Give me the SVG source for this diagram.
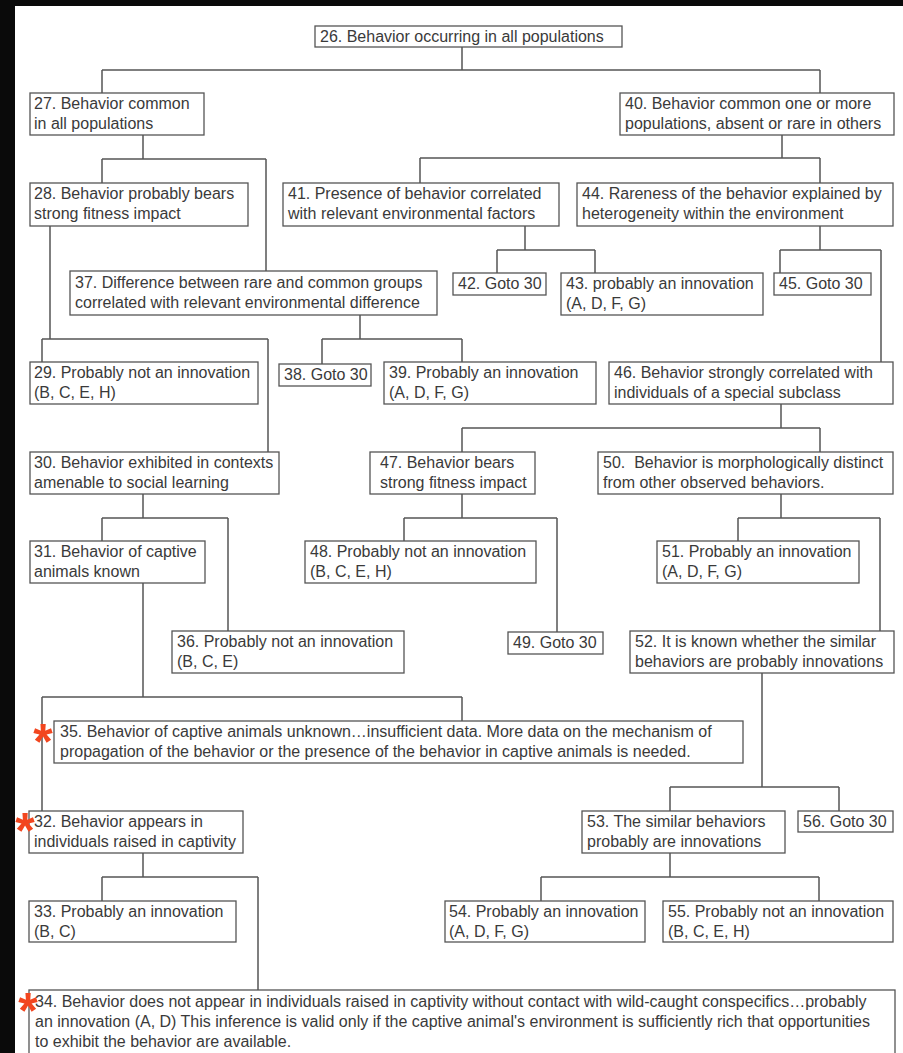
<svg xmlns="http://www.w3.org/2000/svg" width="903" height="1053" viewBox="0 0 903 1053">
<style>
.bg{fill:#ffffff}
.frame{fill:#0a0a0a}
.node rect{fill:#ffffff;stroke:#555555;stroke-width:1.3}
.node text{font-family:"Liberation Sans",Arial,sans-serif;font-size:16px;fill:#3a3a3a}
#connectors path{fill:none;stroke:#555555;stroke-width:1.5}
.star{font-family:"Liberation Sans",Arial,sans-serif;font-weight:bold;font-size:50px;fill:#f2461f;text-anchor:middle}
</style>
<rect class="bg" x="0" y="0" width="903" height="1053"/>
<rect class="frame" x="0" y="0" width="903" height="6"/>
<rect class="frame" x="0" y="0" width="15" height="1053"/>

<g id="connectors">
<path d="M462,47V70M102,70H820M102,70V93M820,70V93"/>
<path d="M143,135V159M102,159H266M102,159V183M266,159V271"/>
<path d="M782,135V158M420,158H820M420,158V183M820,158V183"/>
<path d="M525,226V250M497,250H595M497,250V273M595,250V273"/>
<path d="M820,226V250M780,250H881M780,250V273M881,250V362"/>
<path d="M50,226V339M42,339H268M42,339V362M268,339V452"/>
<path d="M360,315V339M322,339H462M322,339V364M462,339V362"/>
<path d="M781,404V428M462,428H820M462,428V452M820,428V452"/>
<path d="M143,494V518M102,518H228M102,518V541M228,518V631"/>
<path d="M462,494V518M404,518H557M404,518V541M557,518V632"/>
<path d="M781,494V518M738,518H880M738,518V541M880,518V631"/>
<path d="M143,583V697M42,697H462M42,697V811M462,697V721"/>
<path d="M762,673V787M670,787H839M670,787V811M839,787V811"/>
<path d="M143,853V877M102,877H258M102,877V901M258,877V990"/>
<path d="M670,853V877M541,877H819M541,877V901M819,877V901"/>
</g>

<g id="n26" class="node"><rect x="315" y="26" width="307" height="21"/><text x="320" y="42">26. Behavior occurring in all populations</text></g>
<g id="n27" class="node"><rect x="30" y="93" width="174" height="42"/><text x="34" y="109">27. Behavior common</text><text x="34" y="129">in all populations</text></g>
<g id="n40" class="node"><rect x="620" y="93" width="274" height="42"/><text x="625" y="109">40. Behavior common one or more</text><text x="625" y="129">populations, absent or rare in others</text></g>
<g id="n28" class="node"><rect x="30" y="183" width="218" height="43"/><text x="34" y="199">28. Behavior probably bears</text><text x="34" y="219">strong fitness impact</text></g>
<g id="n41" class="node"><rect x="283" y="183" width="276" height="43"/><text x="288" y="199">41. Presence of behavior correlated</text><text x="288" y="219">with relevant environmental factors</text></g>
<g id="n44" class="node"><rect x="577" y="183" width="316" height="43"/><text x="582" y="199">44. Rareness of the behavior explained by</text><text x="582" y="219">heterogeneity within the environment</text></g>
<g id="n37" class="node"><rect x="70" y="271" width="367" height="44"/><text x="75" y="288">37. Difference between rare and common groups</text><text x="75" y="308">correlated with relevant environmental difference</text></g>
<g id="n42" class="node"><rect x="453" y="273" width="93" height="22"/><text x="458" y="289">42. Goto 30</text></g>
<g id="n43" class="node"><rect x="561" y="273" width="202" height="42"/><text x="566" y="289">43. probably an innovation</text><text x="566" y="309">(A, D, F, G)</text></g>
<g id="n45" class="node"><rect x="774" y="273" width="97" height="22"/><text x="779" y="289">45. Goto 30</text></g>
<g id="n29" class="node"><rect x="30" y="362" width="228" height="42"/><text x="34" y="378">29. Probably not an innovation</text><text x="34" y="398">(B, C, E, H)</text></g>
<g id="n38" class="node"><rect x="279" y="364" width="92" height="22"/><text x="284" y="380">38. Goto 30</text></g>
<g id="n39" class="node"><rect x="384" y="362" width="212" height="42"/><text x="389" y="378">39. Probably an innovation</text><text x="389" y="398">(A, D, F, G)</text></g>
<g id="n46" class="node"><rect x="609" y="362" width="284" height="42"/><text x="614" y="378">46. Behavior strongly correlated with</text><text x="614" y="398">individuals of a special subclass</text></g>
<g id="n30" class="node"><rect x="30" y="452" width="249" height="42"/><text x="34" y="468">30. Behavior exhibited in contexts</text><text x="34" y="488">amenable to social learning</text></g>
<g id="n47" class="node"><rect x="370" y="452" width="165" height="42"/><text x="380" y="468">47. Behavior bears</text><text x="380" y="488">strong fitness impact</text></g>
<g id="n50" class="node"><rect x="598" y="452" width="295" height="42"/><text x="603" y="468">50.&#160; Behavior is morphologically distinct</text><text x="603" y="488">from other observed behaviors.</text></g>
<g id="n31" class="node"><rect x="30" y="541" width="175" height="42"/><text x="34" y="557">31. Behavior of captive</text><text x="34" y="577">animals known</text></g>
<g id="n48" class="node"><rect x="305" y="541" width="231" height="42"/><text x="310" y="557">48. Probably not an innovation</text><text x="310" y="577">(B, C, E, H)</text></g>
<g id="n51" class="node"><rect x="657" y="541" width="202" height="42"/><text x="662" y="557">51. Probably an innovation</text><text x="662" y="577">(A, D, F, G)</text></g>
<g id="n36" class="node"><rect x="172" y="631" width="232" height="42"/><text x="177" y="647">36. Probably not an innovation</text><text x="177" y="667">(B, C, E)</text></g>
<g id="n49" class="node"><rect x="508" y="632" width="95" height="22"/><text x="513" y="648">49. Goto 30</text></g>
<g id="n52" class="node"><rect x="630" y="631" width="264" height="42"/><text x="635" y="647">52. It is known whether the similar</text><text x="635" y="667">behaviors are probably innovations</text></g>
<g id="n35" class="node"><rect x="54" y="721" width="689" height="42"/><text x="60" y="737">35. Behavior of captive animals unknown…insufficient data. More data on the mechanism of</text><text x="60" y="757">propagation of the behavior or the presence of the behavior in captive animals is needed.</text></g>
<g id="n32" class="node"><rect x="29" y="811" width="214" height="42"/><text x="34" y="827">32. Behavior appears in</text><text x="34" y="847">individuals raised in captivity</text></g>
<g id="n53" class="node"><rect x="582" y="811" width="203" height="42"/><text x="587" y="827">53. The similar behaviors</text><text x="587" y="847">probably are innovations</text></g>
<g id="n56" class="node"><rect x="798" y="811" width="95" height="21"/><text x="803" y="827">56. Goto 30</text></g>
<g id="n33" class="node"><rect x="29" y="901" width="207" height="41"/><text x="34" y="917">33. Probably an innovation</text><text x="34" y="937">(B, C)</text></g>
<g id="n54" class="node"><rect x="445" y="901" width="200" height="41"/><text x="449" y="917">54. Probably an innovation</text><text x="449" y="937">(A, D, F, G)</text></g>
<g id="n55" class="node"><rect x="663" y="901" width="230" height="41"/><text x="668" y="917">55. Probably not an innovation</text><text x="668" y="937">(B, C, E, H)</text></g>
<g id="n34" class="node"><rect x="29" y="990" width="866" height="75"/><text x="35" y="1007">34. Behavior does not appear in individuals raised in captivity without contact with wild-caught conspecifics…probably</text><text x="35" y="1027">an innovation (A, D) This inference is valid only if the captive animal's environment is sufficiently rich that opportunities</text><text x="35" y="1047">to exhibit the behavior are available.</text></g>

<g id="asterisks">
<text class="star" x="43" y="759">*</text>
<text class="star" x="25" y="848">*</text>
<text class="star" x="28" y="1028">*</text>
</g>
</svg>
